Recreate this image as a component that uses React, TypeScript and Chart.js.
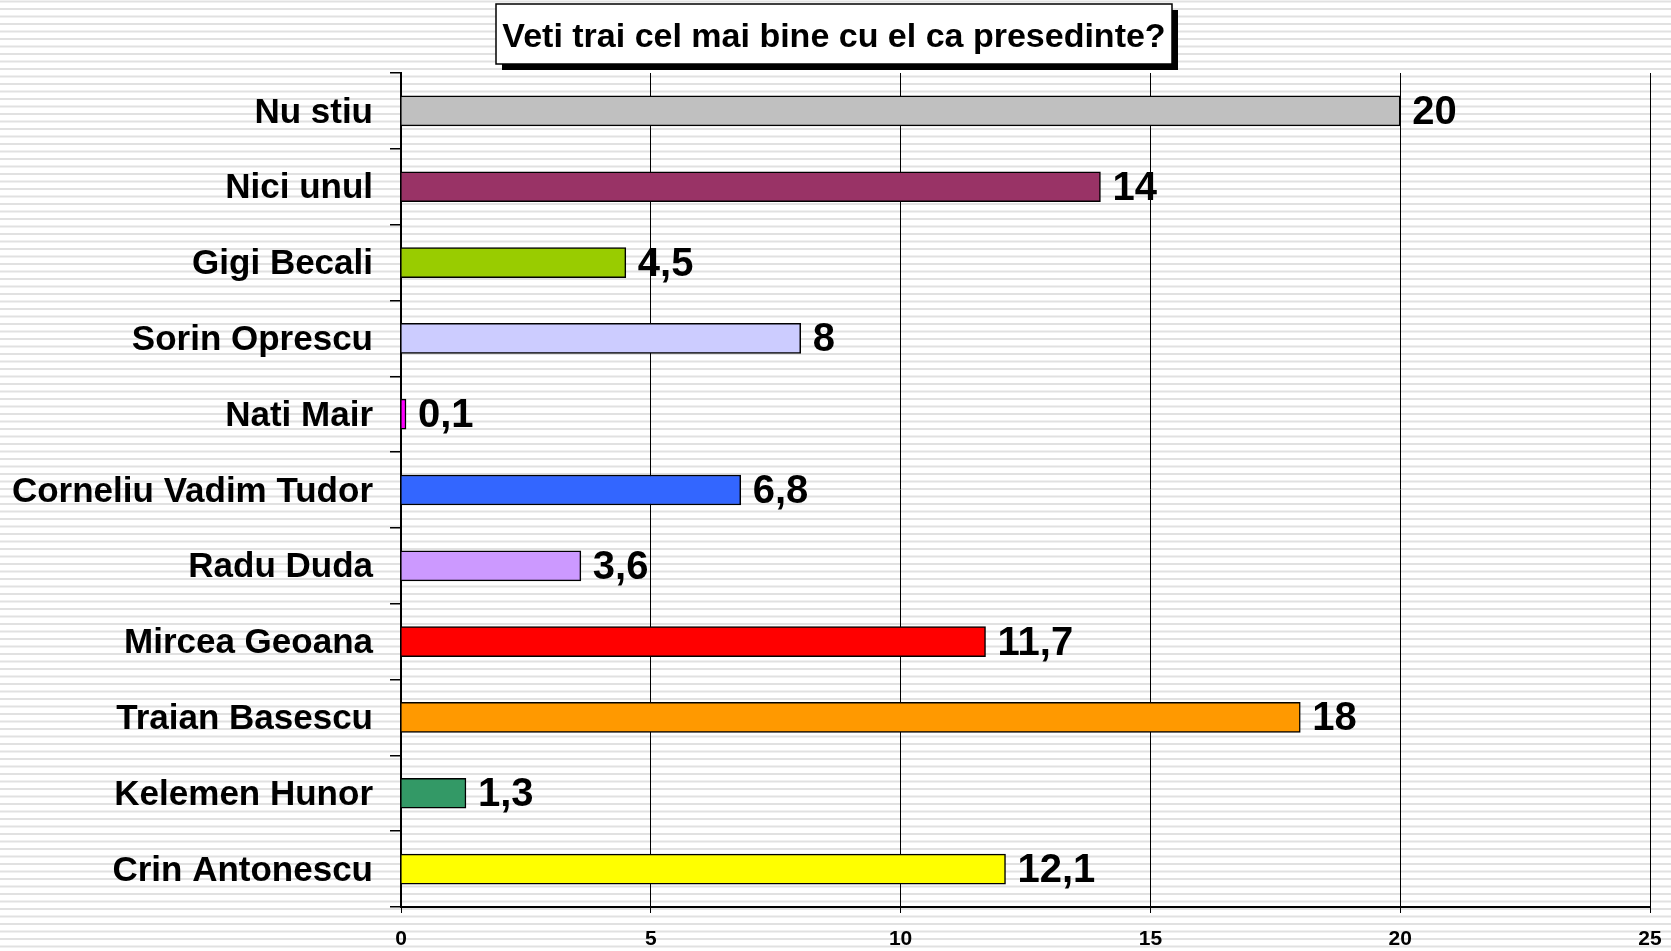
import React, { useEffect, useRef } from "react";
import { Chart, registerables } from "chart.js";

Chart.register(...registerables);

const categories = [
  "Nu stiu",
  "Nici unul",
  "Gigi Becali",
  "Sorin Oprescu",
  "Nati Mair",
  "Corneliu Vadim Tudor",
  "Radu Duda",
  "Mircea Geoana",
  "Traian Basescu",
  "Kelemen Hunor",
  "Crin Antonescu",
];
const values = [20, 14, 4.5, 8, 0.1, 6.8, 3.6, 11.7, 18, 1.3, 12.1];
const barColors = [
  "#C0C0C0",
  "#993366",
  "#99CC00",
  "#CCCCFF",
  "#FF00FF",
  "#3366FF",
  "#CC99FF",
  "#FF0000",
  "#FF9900",
  "#339966",
  "#FFFF00",
];
const titleText = "Veti trai cel mai bine cu el ca presedinte?";
const xMin = 0;
const xMax = 25;
const xStep = 5;

const FONT = '"Liberation Sans", Arial, sans-serif';

const backgroundPlugin = {
  id: "stripedBackground",
  beforeDraw(chart: any) {
    const { ctx, width, height } = chart;
    ctx.save();
    ctx.fillStyle = "#ffffff";
    ctx.fillRect(0, 0, width, height);
    ctx.fillStyle = "#e1e1e1";
    for (let y = 0.5; y < height; y += 7.5) {
      ctx.fillRect(0, y, width, 2);
    }
    // title box with shadow
    const bx = 496, by = 4, bw = 676, bh = 60;
    ctx.fillStyle = "#000000";
    ctx.fillRect(bx + 6, by + 6, bw, bh);
    ctx.fillStyle = "#ffffff";
    ctx.fillRect(bx, by, bw, bh);
    ctx.strokeStyle = "#000000";
    ctx.lineWidth = 1.5;
    ctx.strokeRect(bx, by, bw, bh);
    ctx.fillStyle = "#000000";
    ctx.font = `bold 34px ${FONT}`;
    ctx.textAlign = "center";
    ctx.textBaseline = "alphabetic";
    ctx.fillText(titleText, bx + bw / 2, 47);
    ctx.restore();
  },
};

const valueLabelPlugin = {
  id: "valueLabels",
  afterDatasetsDraw(chart: any) {
    const { ctx } = chart;
    const meta = chart.getDatasetMeta(0);
    ctx.save();
    ctx.fillStyle = "#000000";
    ctx.font = `bold 40px ${FONT}`;
    ctx.textAlign = "left";
    ctx.textBaseline = "alphabetic";
    meta.data.forEach((el: any, i: number) => {
      const txt = String(values[i]).replace(".", ",");
      ctx.fillText(txt, el.x + 12, el.y + 13);
    });
    ctx.restore();
  },
};

export default function App() {
  const canvasRef = useRef<HTMLCanvasElement>(null);

  useEffect(() => {
    if (!canvasRef.current) return;
    const chart = new Chart(canvasRef.current, {
      type: "bar",
      data: {
        labels: categories,
        datasets: [
          {
            data: values,
            backgroundColor: barColors,
            borderColor: "#000000",
            borderWidth: 1.5,
            barThickness: 30,
          },
        ],
      },
      options: {
        indexAxis: "y",
        responsive: false,
        animation: false,
        layout: { padding: { top: 73, left: 0, right: 21, bottom: 0 } },
        plugins: {
          legend: { display: false },
          title: { display: false },
          tooltip: { enabled: false },
        },
        scales: {
          x: {
            type: "linear",
            min: xMin,
            max: xMax,
            ticks: {
              stepSize: xStep,
              color: "#000000",
              font: { family: FONT, size: 21, weight: "bold" },
              padding: 14,
              maxRotation: 0,
            },
            grid: {
              color: "#000000",
              lineWidth: 1,
              drawTicks: true,
              tickLength: 6,
              tickColor: "#000000",
            },
            border: { display: true, color: "#000000", width: 2 },
            afterFit(scale: any) {
              scale.height = 44;
              scale.paddingLeft = 0;
              scale.paddingRight = 0;
            },
          },
          y: {
            type: "category",
            ticks: {
              color: "#000000",
              font: { family: FONT, size: 35, weight: "bold" },
              padding: 17,
              autoSkip: false,
              labelOffset: 2,
            },
            grid: {
              display: true,
              drawOnChartArea: false,
              drawTicks: true,
              tickLength: 11,
              color: "#000000",
              tickColor: "#000000",
              lineWidth: 1.5,
              offset: true,
            },
            border: { display: true, color: "#000000", width: 2 },
            afterFit(scale: any) {
              scale.width = 401;
              scale.paddingTop = 0;
              scale.paddingBottom = 0;
            },
          },
        },
      },
      plugins: [backgroundPlugin, valueLabelPlugin],
    } as any);
    return () => chart.destroy();
  }, []);

  return (
    <div style={{ position: "absolute", left: 0, top: 0, width: 1671, height: 951 }}>
      <canvas ref={canvasRef} width={1671} height={951} style={{ display: "block" }} />
    </div>
  );
}
